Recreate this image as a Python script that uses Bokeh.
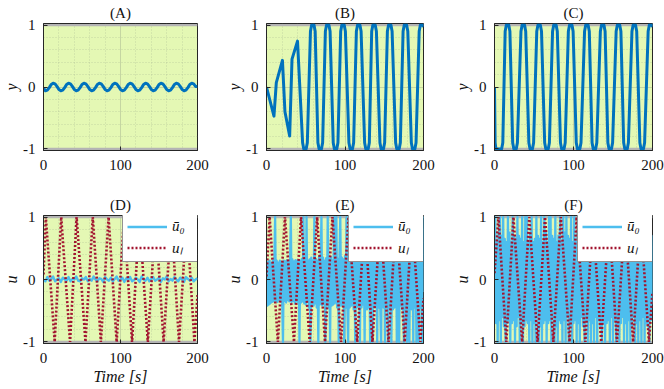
import numpy as np
from bokeh.plotting import figure
from bokeh.layouts import row, column
from bokeh.models import FixedTicker, Span
from bokeh.embed import file_html
from bokeh.resources import INLINE

# ---------------- data ----------------
t_A = np.linspace(0, 200, 81)
y_A = [-0.02, -0.06, -0.05, -0.01, 0.04, 0.06, 0.05, 0.01,
       -0.04, -0.06, -0.05, -0.01, 0.04, 0.06, 0.05, 0.01,
       -0.04, -0.06, -0.05, -0.01, 0.04, 0.06, 0.05, 0.01,
       -0.04, -0.06, -0.05, -0.01, 0.04, 0.06, 0.05, 0.01,
       -0.04, -0.06, -0.05, -0.01, 0.04, 0.06, 0.05, 0.01,
       -0.04, -0.06, -0.05, -0.01, 0.04, 0.06, 0.05, 0.01,
       -0.04, -0.06, -0.05, -0.01, 0.04, 0.06, 0.05, 0.01,
       -0.04, -0.06, -0.05, -0.01, 0.04, 0.06, 0.05, 0.01,
       -0.04, -0.06, -0.05, -0.01, 0.04, 0.06, 0.05, 0.01,
       -0.04, -0.06, -0.05, -0.01, 0.04, 0.06, 0.05, 0.01,
       0.01]

t_B = [0, 9.5, 12.5, 20.3, 23.5, 29.5, 32.5, 39.5,
       46, 47.5, 50.5, 52,
       56, 57.5, 60.5, 62,
       65.5, 67, 70, 71.5,
       75, 76.5, 79.5, 81,
       85, 86.5, 89.5, 91,
       94.5, 96, 99, 100.5,
       105, 106.5, 109.5, 111,
       114.5, 116, 119, 120.5,
       125, 126.5, 129.5, 131,
       134, 135.5, 138.5, 140,
       144.5, 146, 149, 150.5,
       154, 155.5, 158.5, 160,
       164.5, 166, 169, 170.5,
       174, 175.5, 178.5, 180,
       184.5, 186, 189, 190.5,
       194.5, 196, 199, 200]
y_B = [0, -0.47, 0.07, 0.43, -0.40, -0.79, 0.45, 0.74,
       -0.9, -1, -1, -0.9,
       0.9, 1, 1, 0.9,
       -0.9, -1, -1, -0.9,
       0.9, 1, 1, 0.9,
       -0.9, -1, -1, -0.9,
       0.9, 1, 1, 0.9,
       -0.9, -1, -1, -0.9,
       0.9, 1, 1, 0.9,
       -0.9, -1, -1, -0.9,
       0.9, 1, 1, 0.9,
       -0.9, -1, -1, -0.9,
       0.9, 1, 1, 0.9,
       -0.9, -1, -1, -0.9,
       0.9, 1, 1, 0.9,
       -0.9, -1, -1, -0.9,
       0.9, 1, 1, 0.97]

t_C = [0, 0.8, 1.8, 9, 10.5,
       13.5, 15, 18, 19.5,
       23, 24.5, 27.5, 29,
       33.5, 35, 38, 39.5,
       43.5, 45, 48, 49.5,
       53.5, 55, 58, 59.5,
       63.5, 65, 68, 69.5,
       73.5, 75, 78, 79.5,
       83.5, 85, 88, 89.5,
       93.5, 95, 98, 99.5,
       103.5, 105, 108, 109.5,
       114, 115.5, 118.5, 120,
       123.5, 125, 128, 129.5,
       134, 135.5, 138.5, 140,
       143.5, 145, 148, 149.5,
       154, 155.5, 158.5, 160,
       163.5, 165, 168, 169.5,
       174, 175.5, 178.5, 180,
       184, 185.5, 188.5, 190,
       194.5, 196, 199, 200]
y_C = [0, -0.9, -1, -1, -0.9,
       0.9, 1, 1, 0.9,
       -0.9, -1, -1, -0.9,
       0.9, 1, 1, 0.9,
       -0.9, -1, -1, -0.9,
       0.9, 1, 1, 0.9,
       -0.9, -1, -1, -0.9,
       0.9, 1, 1, 0.9,
       -0.9, -1, -1, -0.9,
       0.9, 1, 1, 0.9,
       -0.9, -1, -1, -0.9,
       0.9, 1, 1, 0.9,
       -0.9, -1, -1, -0.9,
       0.9, 1, 1, 0.9,
       -0.9, -1, -1, -0.9,
       0.9, 1, 1, 0.9,
       -0.9, -1, -1, -0.9,
       0.9, 1, 1, 0.9,
       -0.9, -1, -1, -0.9,
       0.9, 1, 1, 0.97]

# bottom row: u0 bar (light blue) and u_l (red dotted)
t_D0 = np.linspace(0, 200, 81)
u0_D = [0.00, -0.03, 0.04, -0.02, 0.01, 0.05, -0.03, 0.00, 0.02, -0.04,
        0.03, 0.00, -0.02, 0.04, -0.03, 0.01, 0.00, 0.05, -0.02, -0.03,
        0.02, 0.00, 0.04, -0.03, 0.01, -0.02, 0.05, 0.00, -0.03, 0.02,
        0.01, -0.04, 0.04, 0.00, -0.02, 0.03, -0.03, 0.01, 0.05, -0.02,
        0.00, 0.03, -0.04, 0.02, 0.00, 0.04, -0.03, -0.01, 0.03, 0.00,
        -0.04, 0.05, 0.00, -0.02, 0.03, -0.03, 0.01, 0.04, -0.02, 0.00,
        0.03, -0.04, 0.02, 0.00, 0.05, -0.03, 0.01, -0.02, 0.04, 0.00,
        -0.03, 0.03, 0.00, -0.04, 0.04, 0.01, -0.02, 0.03, -0.03, 0.00,
        0.02]
t_Dl = [0, 3, 14.5, 23, 34.5, 43, 54.5, 64, 74.5, 84.5, 95,
        104.5, 115, 124.5, 135.5, 145.5, 156, 166, 176, 186, 196, 200]
ul_D = [0.08, 1, -1, 1, -1, 1, -1, 1, -1, 1, -1,
        1, -1, 1, -1, 1, -1, 1, -1, 1, -1, -0.25]

t_E0 = np.linspace(0, 200, 201)
u0_E = [0.05, -0.42, 0.28, -0.40, 0.30, -0.38, 0.26, -0.36, 0.30, -0.35,
        0.28, 1.00, -0.34, 0.30, -0.36, 0.27, -0.33, 0.30, -0.35, 0.28,
        -0.36, -1.00, 0.30, -0.34, 0.29, -0.37, 0.31, -0.33, 0.28, -0.35,
        0.30, 1.00, -0.36, 0.32, -0.34, 0.29, -0.38, 0.31, -0.35, 0.30,
        -0.36, 0.31, -1.00, 0.30, -0.37, 0.33, -0.35, 1.00, -0.38, 0.32,
        -0.40, 1.00, -0.35, 0.30, -0.45, 0.32, -1.00, 0.35, -0.40, 0.30,
        -0.42, 1.00, -0.38, 0.33, -0.45, 0.30, -1.00, 0.36, -0.40, 0.32,
        1.00, -0.42, 0.35, -0.38, 0.30, -1.00, 0.34, -0.40, 1.00, -0.45,
        0.32, -1.00, 0.36, -0.42, 0.30, -0.40, 1.00, -0.38, 0.35, 1.00,
        -0.45, 0.33, -1.00, 0.36, 1.00, -0.42, 0.35, -0.40, 0.32, -1.00,
        0.38, -0.45, 1.00, -0.40, -1.00, 0.40, -0.45, 1.00, -0.42, 0.36,
        1.00, -0.48, 0.40, -1.00, 0.38, -0.45, 1.00, -0.42, 0.40, -1.00,
        0.42, -0.45, 1.00, -0.40, 0.38, -1.00, 0.42, 1.00, -0.48, 0.40,
        -0.45, 0.38, -1.00, 0.42, 1.00, -1.00, 0.40, -0.45, 1.00, -0.42,
        0.40, -1.00, 1.00, -0.45, 0.38, -0.48, -1.00, 0.42, 1.00, -0.45,
        0.40, -1.00, 1.00, -0.45, 0.42, -1.00, 0.38, -0.45, 1.00, -1.00,
        0.42, -0.48, 1.00, -0.45, 0.40, 1.00, -1.00, 0.42, -0.48, -1.00,
        0.45, -0.42, 1.00, -0.48, 0.40, -1.00, 0.45, 1.00, -0.45, -1.00,
        1.00, -0.45, -1.00, 0.42, 1.00, -0.48, 0.40, -1.00, 1.00, -0.45,
        0.42, -1.00, 1.00, -0.48, -1.00, 1.00, -0.45, 0.40, -1.00, 1.00,
        -0.20]
t_El = [0, 4, 14.5, 23.5, 35, 44, 55, 64.5, 74.5, 84, 95,
        104.5, 115.5, 125, 135, 145, 155.5, 165, 176, 185.5, 196, 200]
ul_E = [0.05, 1, -1, 1, -1, 1, -1, 1, -1, 1, -1,
        1, -1, 1, -1, 1, -1, 1, -1, 1, -1, -0.3]

t_F0 = np.linspace(0, 200, 201)
u0_F = [0.10, 1.00, -0.70, 0.60, -1.00, 0.75, -0.65, 1.00, -1.00, 0.70,
        -0.60, 1.00, -0.75, 0.65, -1.00, 0.60, -0.70, 1.00, -0.65, 0.75,
        -1.00, 0.60, -0.70, 1.00, -0.65, 0.70, -1.00, 0.65, -0.75, 1.00,
        -0.60, 0.70, -1.00, 0.65, -0.70, 1.00, -1.00, 0.60, -0.75, 1.00,
        -0.65, 1.00, -0.70, 0.60, -1.00, 0.75, -0.65, 1.00, -1.00, 0.60,
        -0.70, 0.65, -1.00, 1.00, -0.60, 0.70, -1.00, 0.65, -0.75, 1.00,
        -1.00, 0.60, -0.70, 1.00, -0.65, 0.75, -1.00, 0.60, -0.70, 1.00,
        -0.65, 1.00, -1.00, 0.70, -0.60, 0.65, -1.00, 1.00, -0.75, 0.60,
        -1.00, 0.70, -0.65, 1.00, -0.70, 0.60, -1.00, 1.00, -0.65, 0.75,
        -1.00, 1.00, -0.60, 0.70, -1.00, 0.65, -0.75, 1.00, -1.00, 0.60,
        -0.70, 1.00, -0.65, 0.60, -1.00, 0.75, -0.70, 1.00, -1.00, 0.65,
        -0.60, 1.00, -0.75, 0.70, -1.00, 0.60, -0.65, 1.00, -1.00, 0.70,
        -0.65, 0.60, -1.00, 1.00, -0.70, 0.75, -1.00, 0.65, -0.60, 1.00,
        -1.00, 0.70, -0.65, 1.00, -0.75, 0.60, -1.00, 1.00, -0.70, 0.65,
        -1.00, 0.60, -0.70, 1.00, -0.65, 0.75, -1.00, 1.00, -0.60, 0.70,
        -1.00, 1.00, -0.65, 0.60, -1.00, 0.70, -0.75, 1.00, -1.00, 0.65,
        -0.70, 1.00, -0.60, 0.75, -1.00, 0.65, -0.70, 1.00, -1.00, 0.60,
        -0.65, 1.00, -1.00, 0.70, -0.75, 1.00, -0.60, 0.65, -1.00, 1.00,
        -0.70, 0.60, -1.00, 1.00, -0.65, 0.75, -1.00, 0.70, -0.60, 1.00,
        -1.00, 0.65, -0.70, 1.00, -0.75, 0.60, -1.00, 1.00, -0.65, 0.70,
        -0.40]
t_Fl = [0, 5, 15, 24, 35, 44, 54.5, 64, 74.5, 84, 95,
        104, 115, 124.5, 135, 145, 155, 165, 175.5, 185, 195.5, 200]
ul_F = [0.10, 1, -1, 1, -1, 1, -1, 1, -1, 1, -1,
        1, -1, 1, -1, 1, -1, 1, -1, 1, -1, -0.2]

x_ticks = [0, 100, 200]
y_ticks = [-1, 0, 1]
titles = ["(A)", "(B)", "(C)", "(D)", "(E)", "(F)"]

# ---------------- styling ----------------
GREEN = "#e4f8b4"
DARK_BLUE = "#0072bd"
LIGHT_BLUE = "#4dbeee"
RED = "#a2142f"
FRAME = "#262626"
SERIF = "'Liberation Serif', serif"

LEFT = 42
WIDTHS = [223, 228, 213]
FRAME_WS = [155, 158, 159]
TOP_H, BOT_H = 192, 197


def make_panel(width, frame_w, height, title, ylabel, xlabel, bottom_border):
    p = figure(width=width, height=height, x_range=(0, 200), y_range=(-1.025, 1.025),
               output_backend="svg", toolbar_location=None,
               min_border_left=LEFT, min_border_right=width - LEFT - frame_w,
               min_border_top=23, min_border_bottom=bottom_border,
               background_fill_color=GREEN, border_fill_color="white",
               outline_line_color=FRAME, outline_line_width=1)
    p.title.text = title
    p.title.align = "center"
    p.title.text_font = SERIF
    p.title.text_font_size = "15px"
    p.title.text_font_style = "normal"
    p.title.text_color = "#111111"
    p.title.standoff = 5

    p.xaxis.ticker = FixedTicker(ticks=x_ticks,
                                 minor_ticks=[20, 40, 60, 80, 120, 140, 160, 180])
    p.yaxis.ticker = FixedTicker(ticks=y_ticks,
                                 minor_ticks=[-0.8, -0.6, -0.4, -0.2, 0.2, 0.4, 0.6, 0.8])
    p.yaxis.major_label_overrides = {-1: "-1", 0: "0", 1: "1"}
    for ax in (p.xaxis, p.yaxis):
        ax.major_label_text_font = SERIF
        ax.major_label_text_font_size = "15px"
        ax.major_label_text_color = "#111111"
        ax.axis_line_color = FRAME
        ax.major_tick_in = 4
        ax.major_tick_out = 0
        ax.major_tick_line_color = FRAME
        ax.minor_tick_line_color = None
        ax.axis_label_text_font = SERIF
        ax.axis_label_text_font_size = "16px"
        ax.axis_label_text_font_style = "italic"
        ax.axis_label_text_color = "#111111"
    p.yaxis.major_label_standoff = 4
    p.xaxis.major_label_standoff = 5
    p.yaxis.axis_label = ylabel
    p.yaxis.axis_label_standoff = 0
    if xlabel:
        p.xaxis.axis_label = xlabel
        p.xaxis.axis_label_standoff = 2

    for g in (p.xgrid, p.ygrid):
        g.grid_line_color = "#8f9a80"
        g.grid_line_alpha = 0.45
        g.grid_line_width = 0.8
        g.minor_grid_line_color = "#8f9a80"
        g.minor_grid_line_alpha = 0.45
        g.minor_grid_line_dash = "1 2"
        g.minor_grid_line_width = 0.8

    for loc in (1, -1):
        p.add_layout(Span(location=loc, dimension="width", line_color="#b4b4b4",
                          line_width=2.2, level="underlay"))
    return p


top_panels = []
for w, fw, title, tt, yy in zip(WIDTHS, FRAME_WS, titles[:3], [t_A, t_B, t_C], [y_A, y_B, y_C]):
    p = make_panel(w, fw, TOP_H, title, "y", None, 42)
    p.line(tt, yy, line_color=DARK_BLUE, line_width=3, line_join="round")
    top_panels.append(p)

bottom_panels = []
for w, fw, title, t0, u0, tl, ul in zip(WIDTHS, FRAME_WS, titles[3:],
                                        [t_D0, t_E0, t_F0], [u0_D, u0_E, u0_F],
                                        [t_Dl, t_El, t_Fl], [ul_D, ul_E, ul_F]):
    p = make_panel(w, fw, BOT_H, title, "u", "Time [s]", 46)
    p.line(t0, u0, line_color=LIGHT_BLUE, line_width=2.3, line_join="round",
           legend_label="\u016b\u2080")
    p.line(tl, ul, line_color=RED, line_width=2.6, line_dash="2 2",
           legend_label="u\u2097")
    lg = p.legend[0]
    lg.location = (fw - 76, 81)
    lg.margin = 0
    lg.padding = 4
    lg.spacing = 2
    lg.glyph_width = 40
    lg.glyph_height = 15
    lg.label_width = 22
    lg.label_height = 15
    lg.label_standoff = 5
    lg.label_text_font = SERIF
    lg.label_text_font_size = "15px"
    lg.label_text_font_style = "italic"
    lg.label_text_color = "#111111"
    lg.border_line_color = FRAME
    lg.border_line_width = 1
    lg.background_fill_color = "white"
    lg.background_fill_alpha = 1
    bottom_panels.append(p)

layout = column(row(*top_panels), row(*bottom_panels))

open("out.html", "w").write(file_html(layout, INLINE))
